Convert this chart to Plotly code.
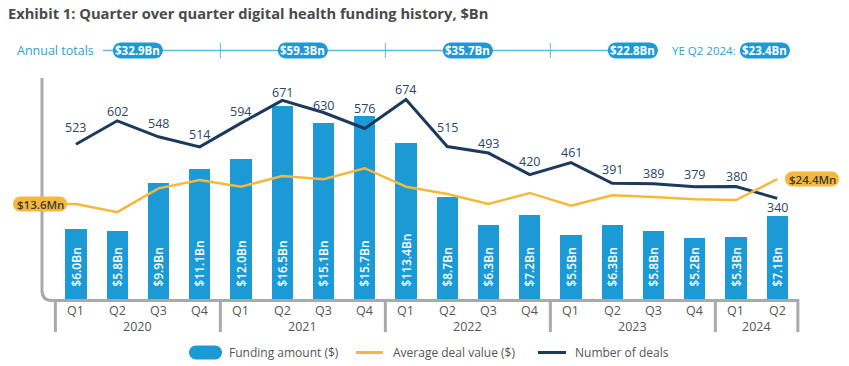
import plotly.graph_objects as go

# ---------------- data ----------------
quarters = ["Q1", "Q2", "Q3", "Q4"] * 4 + ["Q1", "Q2"]
years = ["2020", "2021", "2022", "2023", "2024"]
year_quarter_counts = [4, 4, 4, 4, 2]
funding_bn = [6.0, 5.8, 9.9, 11.1, 12.0, 16.5, 15.1, 15.7, 13.4, 8.7,
              6.3, 7.2, 5.5, 6.3, 5.8, 5.2, 5.3, 7.1]
funding_labels = ["$6.0Bn", "$5.8Bn", "$9.9Bn", "$11.1Bn", "$12.0Bn", "$16.5Bn",
                  "$15.1Bn", "$15.7Bn", "$113.4Bn", "$8.7Bn", "$6.3Bn", "$7.2Bn",
                  "$5.5Bn", "$6.3Bn", "$5.8Bn", "$5.2Bn", "$5.3Bn", "$7.1Bn"]
deal_counts = [523, 602, 548, 514, 594, 671, 630, 576, 674, 515,
               493, 420, 461, 391, 389, 379, 380, 340]
avg_deal_mn = [13.6, 10.1, 20.4, 24.0, 21.1, 25.7, 24.3, 29.1, 21.1, 17.9,
               13.6, 18.4, 12.9, 17.4, 16.6, 15.7, 15.3, 24.4]
annual_totals = ["$32.9Bn", "$59.3Bn", "$35.7Bn", "$22.8Bn"]
ye_label = "YE Q2 2024:"
ye_total = "$23.4Bn"
legend_names = ["Funding amount ($)", "Average deal value ($)", "Number of deals"]

# ---------------- style ----------------
FONT = "Open Sans"
BLUE = "#1c9ad6"
LIGHT_BLUE = "#2e9fd4"
NAVY = "#1b3a5c"
NAVY_TXT = "#2b4566"
YELLOW = "#f5b83d"
GRAY = "#a8a9ad"
TXT = "#555555"
# vertical offset (px) of each deal-count label from its point
deal_label_shift = [17, 9, 13, 12, 12, 8, 7, 20, 10, 19, 10, 13, 10, 14, 10, 12, 10, -9]

W, H = 849, 366
ML, MR, MT, MB = 42, 47, 70, 67
PW, PH = W - ML - MR, H - MT - MB
X_MIN, X_MAX = -0.824, 17.6
Y1 = [0, 19.62]
Y2 = [0, 773.6]
Y3 = [-27.5, 71.6]

n = len(quarters)
xs = list(range(n))


def xpap(v):
    return (v - X_MIN) / (X_MAX - X_MIN)


def px2x(p):
    return (p - ML) / PW


def py2y(p):
    return (H - MB - p) / PH


def yp3(v):
    return (v - Y3[0]) / (Y3[1] - Y3[0])


def stadium(w, h):
    r = h / 2.0
    a = w / 2.0 - r
    k = 0.5523 * r
    return (f"M {-a},{-r} L {a},{-r} C {a + k},{-r} {a + r},{-k} {a + r},0 "
            f"C {a + r},{k} {a + k},{r} {a},{r} L {-a},{r} "
            f"C {-a - k},{r} {-a - r},{k} {-a - r},0 "
            f"C {-a - r},{-k} {-a - k},{-r} {-a},{-r} Z")


def pill(xc, yc, w, h, color):
    return dict(type="path", xref="paper", yref="paper", xsizemode="pixel",
                ysizemode="pixel", xanchor=xc, yanchor=yc, path=stadium(w, h),
                fillcolor=color, line=dict(width=0), layer="above")


def label(text, x, y, size, color, xanchor="center", weight="normal"):
    return dict(text=text, x=x, y=y, xref="paper", yref="paper", showarrow=False,
                xanchor=xanchor, yanchor="middle",
                font=dict(family=FONT, size=size, color=color, weight=weight))


fig = go.Figure()

nb = "\u00a0" * 3
fig.add_trace(go.Bar(
    x=xs, y=funding_bn, width=0.52, marker=dict(color=BLUE, line=dict(width=0)),
    text=[nb + t for t in funding_labels], textposition="inside",
    insidetextanchor="start", textangle=-90,
    textfont=dict(family=FONT, size=12, color="white", weight=600),
    showlegend=False, hoverinfo="skip", yaxis="y"))

fig.add_trace(go.Scatter(
    x=xs, y=avg_deal_mn, mode="lines", line=dict(color=YELLOW, width=2.5),
    showlegend=False, hoverinfo="skip", yaxis="y3"))

fig.add_trace(go.Scatter(
    x=xs, y=deal_counts, mode="lines", line=dict(color=NAVY, width=3),
    showlegend=False, hoverinfo="skip", yaxis="y2"))

shapes = []
annotations = []

# deal count labels
for x, v, s in zip(xs, deal_counts, deal_label_shift):
    annotations.append(dict(text=str(v), x=x, y=v, xref="x", yref="y2",
                            showarrow=False, xanchor="center", yanchor="middle",
                            yshift=s,
                            font=dict(family=FONT, size=12.5, color=NAVY_TXT)))

# axis frame (left vertical, rounded corner, baseline, right drop)
top = py2y(78)
base = py2y(300.5)
rx, ry = 10 / PW, 10 / PH
xr = xpap(n - 0.5)
bot = py2y(332)
shapes.append(dict(type="path", xref="paper", yref="paper", layer="below",
                   path=f"M 0,{top} L 0,{base + ry} Q 0,{base} {rx},{base} "
                        f"L {xr},{base} L {xr},{bot}",
                   line=dict(color=GRAY, width=3)))

# year dividers + labels
start = 0
group_centers = []
for yr, cnt in zip(years, year_quarter_counts):
    b = start - 0.5
    shapes.append(dict(type="line", xref="paper", yref="paper",
                       x0=xpap(b), x1=xpap(b), y0=py2y(302), y1=bot,
                       line=dict(color=GRAY, width=3), layer="below"))
    c = start + (cnt - 1) / 2
    group_centers.append(c)
    annotations.append(label(yr, xpap(c), py2y(326.5), 12.5, TXT))
    start += cnt

for i, q in enumerate(quarters):
    annotations.append(label(q, xpap(i), py2y(310.5), 12.5, TXT))

# annual totals row
row_y = py2y(50.5)
shapes.append(dict(type="line", xref="paper", yref="paper",
                   x0=px2x(103), x1=xpap(group_centers[len(annual_totals) - 1]),
                   y0=row_y, y1=row_y, line=dict(color="#62b6df", width=1.5)))
start = 0
for cnt in year_quarter_counts[:len(annual_totals) - 1]:
    start += cnt
    shapes.append(dict(type="line", xref="paper", yref="paper",
                       x0=xpap(start - 0.5), x1=xpap(start - 0.5),
                       y0=py2y(43), y1=py2y(58),
                       line=dict(color="#62b6df", width=1)))
annotations.append(label("Annual totals", px2x(96), row_y, 12.5, LIGHT_BLUE,
                         xanchor="right"))
for c, t in zip(group_centers, annual_totals):
    shapes.append(pill(xpap(c), row_y, 50, 16, BLUE))
    annotations.append(label(t, xpap(c), row_y, 11.5, "white", weight="bold"))
ye_x = xpap(16.7)
annotations.append(label(ye_label, px2x(738), row_y, 11.5, LIGHT_BLUE,
                         xanchor="right"))
shapes.append(pill(ye_x, row_y, 50, 16, BLUE))
annotations.append(label(ye_total, ye_x, row_y, 11.5, "white", weight="bold"))

# average deal value end labels
y_first = yp3(avg_deal_mn[0])
shapes.append(dict(type="line", xref="paper", yref="paper", x0=px2x(62),
                   x1=xpap(0), y0=y_first, y1=y_first,
                   line=dict(color=YELLOW, width=2.5), layer="above"))
lx = px2x(40)
shapes.append(pill(lx, y_first, 54, 15, YELLOW))
annotations.append(label(f"${avg_deal_mn[0]:.1f}Mn", lx, y_first, 11.5, "#3a3a3a",
                         weight=600))
rxp = px2x(812)
y_last = yp3(avg_deal_mn[-1])
shapes.append(pill(rxp, y_last, 54, 15, YELLOW))
annotations.append(label(f"${avg_deal_mn[-1]:.1f}Mn", rxp, y_last, 11.5, "#3a3a3a",
                         weight=600))

# custom legend
ly = py2y(352.5)
shapes.append(pill(px2x(205.5), ly, 33, 14, BLUE))
shapes.append(dict(type="line", xref="paper", yref="paper", x0=px2x(356),
                   x1=px2x(383), y0=ly, y1=ly, line=dict(color=YELLOW, width=3)))
shapes.append(dict(type="line", xref="paper", yref="paper", x0=px2x(538),
                   x1=px2x(566), y0=ly, y1=ly, line=dict(color=NAVY, width=3)))
for name, p in zip(legend_names, [227, 391, 573]):
    annotations.append(label(name, px2x(p), ly, 12, TXT, xanchor="left"))

fig.update_layout(
    width=W, height=H,
    margin=dict(l=ML, r=MR, t=MT, b=MB, pad=0),
    paper_bgcolor="white", plot_bgcolor="white",
    title=dict(text="<b>Exhibit 1: Quarter over quarter digital health funding history, $Bn</b>",
               x=8 / W, xref="container", xanchor="left",
               y=1 - 14 / H, yref="container", yanchor="middle",
               font=dict(family=FONT, size=14.7, color="#4a4a4a")),
    xaxis=dict(range=[X_MIN, X_MAX], visible=False, fixedrange=True),
    yaxis=dict(range=Y1, visible=False),
    yaxis2=dict(range=Y2, visible=False, overlaying="y"),
    yaxis3=dict(range=Y3, visible=False, overlaying="y"),
    uniformtext=dict(minsize=12, mode="show"),
    shapes=shapes, annotations=annotations,
    showlegend=False, bargap=0,
)

fig.write_html("out.html", config={"displayModeBar": False},
               post_script="document.body.style.margin='0';")
